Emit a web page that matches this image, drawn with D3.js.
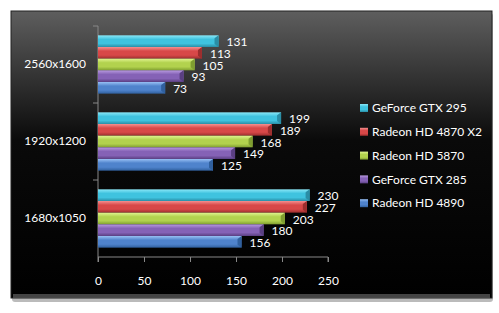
<!DOCTYPE html>
<html>
<head>
<meta charset="utf-8">
<script src="https://cdn.jsdelivr.net/npm/d3@7"></script>
<style>
  body { margin: 0; background: #fff; }
  text { font-family: Lato, "Open Sans", sans-serif; fill: #fff; }
</style>
</head>
<body>
<svg id="chart" width="499" height="313"></svg>
<script>
// resolutions, top to bottom
var categories = ["2560x1600", "1920x1200", "1680x1050"];
var seriesNames = ["GeForce GTX 295", "Radeon HD 4870 X2", "Radeon HD 5870", "GeForce GTX 285", "Radeon HD 4890"];
var gtx295 = [131, 199, 230];
var hd4870x2 = [113, 189, 227];
var hd5870 = [105, 168, 203];
var gtx285 = [93, 149, 180];
var hd4890 = [73, 125, 156];
var xTicks = [0, 50, 100, 150, 200, 250];

var seriesValues = [gtx295, hd4870x2, hd5870, gtx285, hd4890];
// light, mid, dark
var palette = [
  ["#8ae8f8", "#3fc3df", "#2a8ea6"],
  ["#f49090", "#d84848", "#9c2e2e"],
  ["#e0f490", "#b2d24e", "#7f9e30"],
  ["#b89ae0", "#8562b6", "#5a3f82"],
  ["#98c0f4", "#4f83cc", "#30609e"]
];

var svg = d3.select("#chart");
var defs = svg.append("defs");

var bg = defs.append("linearGradient").attr("id", "bg")
  .attr("x1", 0).attr("y1", 0).attr("x2", 0).attr("y2", 1);
bg.append("stop").attr("offset", "0%").attr("stop-color", "#5e5e5e");
bg.append("stop").attr("offset", "45%").attr("stop-color", "#0a0a0a");
bg.append("stop").attr("offset", "100%").attr("stop-color", "#000");

palette.forEach(function(c, i) {
  var g = defs.append("linearGradient").attr("id", "bar" + i)
    .attr("x1", 0).attr("y1", 0).attr("x2", 0).attr("y2", 1);
  g.append("stop").attr("offset", "0%").attr("stop-color", c[0]);
  g.append("stop").attr("offset", "35%").attr("stop-color", c[1]);
  g.append("stop").attr("offset", "70%").attr("stop-color", c[1]);
  g.append("stop").attr("offset", "100%").attr("stop-color", c[2]);
});

// frame with shadow
svg.append("rect").attr("x", 12).attr("y", 13).attr("width", 481).attr("height", 289)
  .attr("rx", 3).attr("fill", "#bbb");
svg.append("rect").attr("x", 11).attr("y", 11).attr("width", 481).attr("height", 287)
  .attr("fill", "url(#bg)").attr("stroke", "#222").attr("stroke-width", 1);
svg.append("rect").attr("x", 13).attr("y", 294).attr("width", 477).attr("height", 4)
  .attr("fill", "#555").attr("opacity", 0.8);

var x = d3.scaleLinear().domain([0, 250]).range([98, 328]);
var y = d3.scaleBand().domain(categories).range([26, 257]);
var yInner = d3.scaleBand().domain(seriesNames).range([0, y.bandwidth()]).paddingOuter(0.8);

// axes
var xAxis = svg.append("g").attr("transform", "translate(0,257)")
  .call(d3.axisBottom(x).tickValues(xTicks).tickSize(5).tickSizeOuter(0).tickPadding(14));
var yAxis = svg.append("g").attr("transform", "translate(98,0)")
  .call(d3.axisLeft(y).tickSize(0).tickPadding(12));
[xAxis, yAxis].forEach(function(a) {
  a.selectAll("path, line").attr("stroke", "#888");
  a.selectAll("text").style("font-size", "12px").attr("fill", "#fff");
});
xAxis.select(".domain").attr("d", "M98,5V0H328V5");
// category separator ticks on the value axis line
svg.append("g").selectAll("line")
  .data([26, 103, 180])
  .join("line")
  .attr("x1", 93).attr("x2", 98)
  .attr("y1", d => d).attr("y2", d => d)
  .attr("stroke", "#888");
yAxis.select(".domain").attr("d", "M0,26V257");

var rows = [];
categories.forEach(function(cat, ci) {
  seriesNames.forEach(function(s, si) {
    rows.push({cat: cat, s: s, si: si, v: seriesValues[si][ci]});
  });
});

var bars = svg.append("g").selectAll("g")
  .data(rows)
  .join("g")
  .attr("transform", d => "translate(0," + (y(d.cat) + yInner(d.s)) + ")");

var bh = yInner.bandwidth();
bars.append("rect")
  .attr("x", x(0))
  .attr("y", 0)
  .attr("width", d => x(d.v) - x(0))
  .attr("height", bh)
  .attr("fill", d => "url(#bar" + d.si + ")");
// bevelled end cap
bars.append("path")
  .attr("d", function(d) {
    var e = x(d.v);
    return "M" + (e - 4) + "," + 3 + "L" + e + ",0L" + e + "," + bh + "L" + (e - 4) + "," + (bh - 3) + "Z";
  })
  .attr("fill", d => palette[d.si][2]);

bars.append("text")
  .attr("x", d => x(d.v) + 8)
  .attr("y", bh / 2 + 1)
  .attr("dy", "0.35em")
  .style("font-size", "12px")
  .text(d => d.v);

// legend
var legend = svg.append("g").selectAll("g")
  .data(seriesNames)
  .join("g")
  .attr("transform", (d, i) => "translate(360," + (108 + i * 23.8) + ")");
legend.append("rect")
  .attr("x", 0).attr("y", -4).attr("width", 8).attr("height", 8)
  .attr("fill", (d, i) => "url(#bar" + i + ")");
legend.append("text")
  .attr("x", 12).attr("y", 0).attr("dy", "0.35em")
  .style("font-size", "12px")
  .text(d => d);
</script>
</body>
</html>
